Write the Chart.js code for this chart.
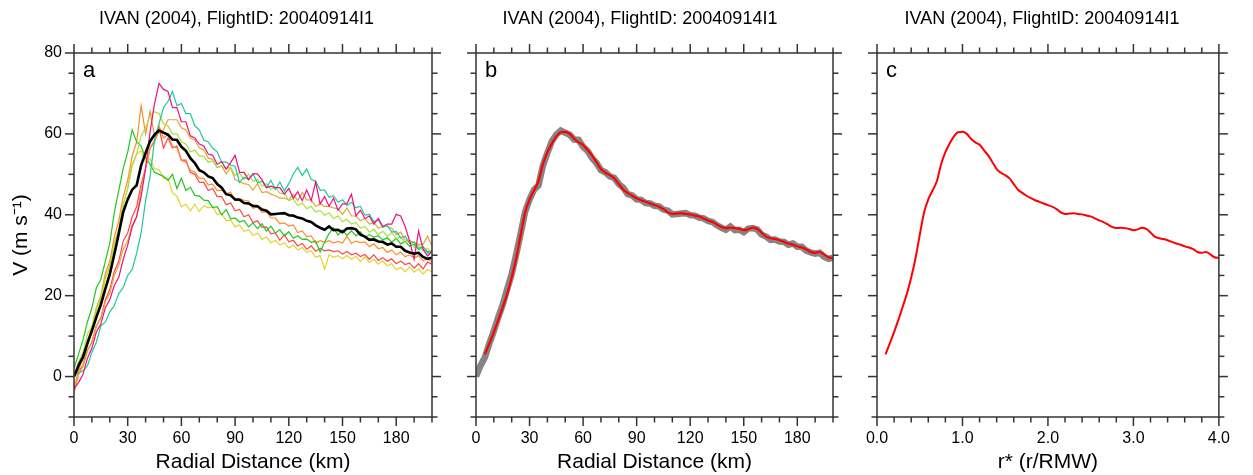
<!DOCTYPE html>
<html><head><meta charset="utf-8">
<script src="https://cdn.jsdelivr.net/npm/chart.js@4.4.1/dist/chart.umd.min.js"></script>
<style>
html,body{margin:0;padding:0;background:#fff;width:1253px;height:475px;overflow:hidden;position:relative}
.p{position:absolute;top:0;height:475px}
canvas{display:block}
</style></head><body>
<div class="p" style="left:0px;width:473px"><canvas id="ca" width="473" height="475"></canvas></div>
<div class="p" style="left:430px;width:420px"><canvas id="cb" width="420" height="475"></canvas></div>
<div class="p" style="left:842px;width:400px"><canvas id="cc" width="400" height="475"></canvas></div>
<script>
const TITLE = 'IVAN (2004), FlightID: 20040914I1';
const RMW = 50; // km, radius of maximum wind
const km = [0,2.5,5,7.5,10,12.5,15,17.5,20,22.5,
 25,27.5,30,32.5,35,37.5,40,42.5,45,47.5,
 50,52.5,55,57.5,60,62.5,65,67.5,70,72.5,
 75,77.5,80,82.5,85,87.5,90,92.5,95,97.5,
 100,102.5,105,107.5,110,112.5,115,117.5,120,122.5,
 125,127.5,130,132.5,135,137.5,140,142.5,145,147.5,
 150,152.5,155,157.5,160,162.5,165,167.5,170,172.5,
 175,177.5,180,182.5,185,187.5,190,192.5,195,197.5,
 200];
const meanV = [0,2.7,4.8,8.2,11.3,14.7,17.8,21.7,25.3,30.2,
 35.3,40.7,43.8,46.2,47.3,52.2,55.3,58.2,59.8,60.8,
 60.3,59.8,58.6,58.5,56.8,55.8,54,52.8,51,50.5,
 49.5,49.1,47.6,46.7,45.1,44.8,43.8,43.7,42.9,42.8,
 42.2,42.1,41.3,41,40.1,40.2,40.3,40.4,39.9,39.8,
 39.3,39.1,38.5,38.2,37.4,36.8,36.3,37.1,36.2,36.3,
 35.7,36.6,36.7,36.4,35.1,34.6,33.8,33.9,33.4,33.3,
 32.6,32.9,32.1,32.1,31.1,30.7,30.4,30.6,29.6,29.1,
 29.4];
const smoothV = [null,null,5.5,8.2,11,14,17.2,20.5,24.5,29.2,
 35,40.5,43.8,46,48.3,52.5,55.5,57.6,59.4,60.4,
 60.5,60,58.8,57.9,57.3,56,54.7,53,51.3,50.4,
 49.8,49,47.6,46.2,45.4,44.7,44.1,43.6,43.2,42.8,
 42.4,42,41.4,40.6,40.2,40.3,40.4,40.2,40.1,39.8,
 39.6,39.1,38.6,38.2,37.6,37,36.7,36.8,36.7,36.5,
 36.2,36.4,36.8,36.5,35.6,34.6,34.2,34,33.7,33.3,
 32.9,32.6,32.2,31.9,31.5,30.8,30.6,30.8,30.2,29.5,
 29.3];
const greenV = [2,5.5,9,13.5,17,22,24,28.5,33,40.5,
 46,51.5,55.5,61,58,57,54,52.5,50.5,50,
 49.5,48.5,50,46.5,49,46,46.8,44.8,44.6,43.6,
 43.5,41.8,42,40,41.3,39,39.2,38.2,38.6,37,
 38,36.6,37.8,36,37.2,35.5,36.3,34.8,35.8,34.2,
 34.8,33.9,34,33.2,33.5,30.8,33.2,35.4,36.8,35,
 36.2,34.9,36,34.8,35.8,34.4,35.1,34.5,34.8,33.8,
 34.3,33.2,34.2,32.8,33.4,32.2,32.7,31.4,32.1,30.8,
 31.2];
const orangeV = [-3,1.5,4.5,9,12,17,20,25.5,28.5,34.5,
 38.5,44.5,48.5,54.5,58,67,60,65.5,59.5,62,
 59,59.8,56.8,56.6,53.4,53,51,50.6,49,49,
 47.4,47.6,46,46.1,45.2,45.6,43.5,44,43.6,43.4,
 41.6,42,40.6,40.8,39.2,39.2,37.8,38,37.2,37.5,
 35.6,36,34.6,34.8,33,33.6,33.2,33.6,33,33.4,
 33,34.7,32.9,33.5,33.1,33.3,32.1,32.8,31.6,31.9,
 30.7,31.3,30.1,30.8,29.6,30.1,29.3,29.9,28.6,29.1,
 28.4];
const yellowV = [-4,0.5,3,8,11,16,19,24,27,32.5,
 36.5,42.5,46.5,52.5,55,55.8,53,53.8,51.4,51.2,
 49,49,45.4,44.6,42,42.6,41,42.6,40.8,42.3,
 41.7,42,40,40.3,38.5,38.7,37,37.5,35.9,36.3,
 34.9,35.5,33.9,34.5,33.1,33.7,32.5,33.1,31.8,32.5,
 31.3,31.9,30.7,31.1,29.5,29.9,26.6,30.1,29.5,29.9,
 29.1,29.9,29,29.7,28.4,29.6,28.2,29,27.8,28.6,
 27.4,27.9,26.4,27,25.9,27.1,25.8,26.6,25.4,26.4,
 25.9];
const yellowGreenV = [0,3.5,6,10.5,12.5,17,19.5,24.5,27.5,33,
 36.5,42.5,46.5,52,55,59.5,61.5,64.5,65.5,65,
 62.5,62,60,60,58,57.5,55.5,56,54.5,54.5,
 53,53.3,51.7,52,51.5,51.7,49.7,50.3,48.7,50.1,
 48.3,48.7,47.1,47.7,46.3,46.7,45.3,45.3,43.5,43.9,
 42.3,42.9,41.5,42.1,40.7,41.1,39.9,40.5,39.1,39.7,
 38.3,38.9,37.7,38.1,36.7,37.1,35.7,36.4,35.1,35.9,
 34.7,35.5,34.1,34.5,33.1,33.5,31.9,32.5,31.1,31.7,
 30.8];
const redV = [0,1.5,2.5,6.5,8.5,12.5,14.5,19,21.5,26,
 28.5,33.5,35.5,39.5,42,47.5,51.5,56.5,58,61.5,
 56.5,59,56.5,57,53.5,53.5,50.5,50,48,48,
 46,46.5,44.5,44.5,42.5,42.9,41,41.3,39.5,40,
 38.1,38.5,36.9,37,35.3,35.5,33.7,35.1,33.3,33.7,
 32.3,32.9,31.5,32.3,31,31.7,31.1,31.3,30.9,31.1,
 30.3,30.9,30.1,30.5,29.7,30.2,29,30.1,28.7,29.4,
 28.5,29.1,27.9,28.5,27.7,28.1,26.8,27.9,26.6,28.3,
 27.8];
const magentaV = [-3,-1.5,0.5,4.5,7,11,13,17,19,22.5,
 24.5,29,32.5,37,39.5,44.5,51.5,60.5,67.5,72.5,
 71,70.5,66.5,66.5,63,63,59.5,59,57.5,57,
 55,54.7,52.5,53.1,51.3,52.9,54.7,50.5,50.5,48.7,
 50.1,50.1,48.7,46.7,47.1,46.7,46.7,45.1,46.5,44.1,
 45.7,43.5,46.1,43.5,48.1,42.7,44.5,42.1,44.1,41.1,
 42.7,42.7,45.1,39.7,41.1,39.1,39.7,37.7,39.1,37.1,
 37.7,37.7,40.1,39.7,37.1,33.5,29,36,31.5,29.8,
 31];
const tealV = [1,0.8,1.4,2.6,6,8.5,12.5,13.5,16,17.5,
 20.5,22,25,26.5,30.5,35.5,43.5,49.5,58.5,62.5,
 66.5,68,70.5,67,67.5,65,65,62,61,58.5,
 58,56.5,55.5,53,53,52.3,52,48,49.3,48.7,
 50.1,47.9,48.3,46.7,48.5,46.3,48.1,45.9,47.7,50.1,
 51.7,49.7,51.3,48.7,48.3,46.1,46.1,44.3,44.7,43.1,
 43.7,42.3,43.1,41.7,42.1,39.9,40.1,38.3,38.7,36.9,
 37.3,35.7,35.9,34.3,34.7,32.9,33.3,31.7,32.1,30.5,
 30.6];
const goldV = [-4,0.5,2.5,6.5,8.5,12.5,14.5,18.5,20.5,25,
 27.5,31.5,33.5,37.5,39.5,46.5,51.5,56.5,58.5,60.5,
 61,63.5,63.5,63.5,61.5,61,59,58.5,56.5,56,
 54,53.7,51.7,52.1,50.1,51.7,48.7,48.1,47.7,47.5,
 46.1,47.7,45.5,45.7,45.1,44.7,44.1,44.1,43.7,45.1,
 43.5,45.5,43.7,43.7,42.1,42.7,42.1,42.1,41.7,41.5,
 40.1,41.7,39.7,39.7,38.5,39.1,37.7,38.1,36.7,37.1,
 37.1,36.7,35.1,35.7,33.7,33.7,33.1,32.7,32.7,34.7,
 32.2];

const FONT = "'Liberation Sans', Arial, Helvetica, sans-serif";

const frameTicks = {
  id: 'frameTicks',
  afterDraw(chart, args, opts) {
    const {ctx, chartArea} = chart;
    const {left, right, top, bottom} = chartArea;
    const xs = chart.scales.x, ys = chart.scales.y;
    ctx.save();
    ctx.strokeStyle = '#333';
    ctx.lineWidth = 1.5;
    const seg = (x1, y1, x2, y2) => { ctx.beginPath(); ctx.moveTo(x1, y1); ctx.lineTo(x2, y2); ctx.stroke(); };
    xs.ticks.forEach(t => {
      const px = xs.getPixelForValue(t.value);
      const L = opts.majorX(t.value) ? 9 : 5.5;
      seg(px, bottom, px, bottom + L);
      seg(px, top, px, top - L);
    });
    ys.ticks.forEach(t => {
      const py = ys.getPixelForValue(t.value);
      const L = opts.majorY(t.value) ? 9 : 5.5;
      seg(left, py, left - L, py);
      seg(right, py, right + L, py);
    });
    ctx.strokeRect(left, top, right - left, bottom - top);
    ctx.fillStyle = '#000';
    ctx.font = '22px ' + FONT;
    ctx.textBaseline = 'alphabetic';
    ctx.textAlign = 'left';
    ctx.fillText(opts.letter, left + 9, top + 24);
    ctx.restore();
  }
};

function near(v, s) { return Math.abs(v / s - Math.round(v / s)) < 1e-6; }

function makePanel(id, o) {
  const W = o.width;
  return new Chart(document.getElementById(id), {
    type: 'line',
    data: { datasets: o.datasets },
    options: {
      responsive: false,
      animation: false,
      events: [],
      layout: { padding: 0 },
      elements: { point: { radius: 0 }, line: { tension: 0 } },
      plugins: {
        legend: { display: false },
        tooltip: { enabled: false },
        title: {
          display: true, text: TITLE, color: '#000',
          font: { family: FONT, size: 18, weight: 'normal', lineHeight: 1.2 },
          padding: { top: 8, bottom: 53 - 8 - 21.6 }
        },
        frameTicks: { letter: o.letter, majorX: o.majorX, majorY: v => near(v, 20) }
      },
      scales: {
        x: {
          type: 'linear', position: 'bottom', min: o.xMin, max: o.xMax,
          grid: { display: false, drawTicks: false }, border: { display: false },
          ticks: {
            stepSize: o.xStep, autoSkip: false, maxRotation: 0, padding: 12,
            color: '#000', font: { family: FONT, size: 16 },
            callback: o.xLabel
          },
          title: { display: true, text: o.xTitle, color: '#000', font: { family: FONT, size: 21 }, padding: { top: 0, bottom: 0 } },
          afterFit(s) { s.height = 58; }
        },
        y: {
          type: 'linear', position: 'left', min: -10, max: 80,
          grid: { display: false, drawTicks: false }, border: { display: false },
          ticks: {
            display: !!o.yTitle, stepSize: 5, autoSkip: false, padding: 12,
            color: '#000', font: { family: FONT, size: 16 },
            callback: v => (v >= 0 && near(v, 20)) ? String(v) : ''
          },
          title: { display: !!o.yTitle, text: o.yTitle || '', color: '#000', font: { family: FONT, size: 21 }, padding: { top: 9, bottom: 0 } },
          afterFit(s) { s.width = o.plotLeft; }
        },
        y2: {
          type: 'linear', position: 'right', display: true,
          grid: { display: false, drawTicks: false }, border: { display: false },
          ticks: { display: false },
          afterFit(s) { s.width = W - o.plotRight; }
        }
      }
    },
    plugins: [frameTicks]
  });
}

function pts(xs, ys) {
  const out = [];
  xs.forEach((x, i) => { if (ys[i] !== null) out.push({ x: x, y: ys[i] }); });
  return out;
}
function ln(xs, ys, color, w, extra) {
  return Object.assign({ data: pts(xs, ys), borderColor: color, borderWidth: w, pointRadius: 0, fill: false }, extra || {});
}

const kmLabel = v => (near(v, 30) && v <= 180) ? String(v) : '';

// Chart.js paints the first dataset on top, so the mean comes first.
makePanel('ca', {
  width: 473, plotLeft: 74, plotRight: 432, letter: 'a',
  xMin: 0, xMax: 200, xStep: 10, xLabel: kmLabel, majorX: v => near(v, 30) && v <= 180,
  xTitle: 'Radial Distance (km)', yTitle: 'V (m s\u207B\u00B9)',
  datasets: [
    ln(km, meanV, '#000000', 2.6),
    ln(km, magentaV, '#ee1080', 1.2),
    ln(km, tealV, '#1ec89a', 1.2),
    ln(km, yellowGreenV, '#a8e03c', 1.2),
    ln(km, goldV, '#e4a535', 1.2),
    ln(km, greenV, '#1ec81e', 1.2),
    ln(km, orangeV, '#ff8a2a', 1.2),
    ln(km, redV, '#ff4545', 1.2),
    ln(km, yellowV, '#e6d228', 1.2)
  ]
});

makePanel('cb', {
  width: 420, plotLeft: 46, plotRight: 403, letter: 'b',
  xMin: 0, xMax: 200, xStep: 10, xLabel: kmLabel, majorX: v => near(v, 30) && v <= 180,
  xTitle: 'Radial Distance (km)', yTitle: null,
  datasets: [
    ln(km, smoothV, '#ff0000', 2.2, { cubicInterpolationMode: 'monotone' }),
    ln(km, meanV, '#858585', 6.5)
  ]
});

makePanel('cc', {
  width: 400, plotLeft: 35, plotRight: 391, letter: 'c',
  xMin: 0, xMax: 4, xStep: 0.2, xLabel: v => near(v, 1) ? v.toFixed(1) : '', majorX: v => near(v, 1),
  xTitle: 'r* (r/RMW)', yTitle: null,
  datasets: [
    ln(km.map(k => k / RMW), smoothV, '#ff0000', 2, { cubicInterpolationMode: 'monotone' })
  ]
});
</script>
</body></html>
